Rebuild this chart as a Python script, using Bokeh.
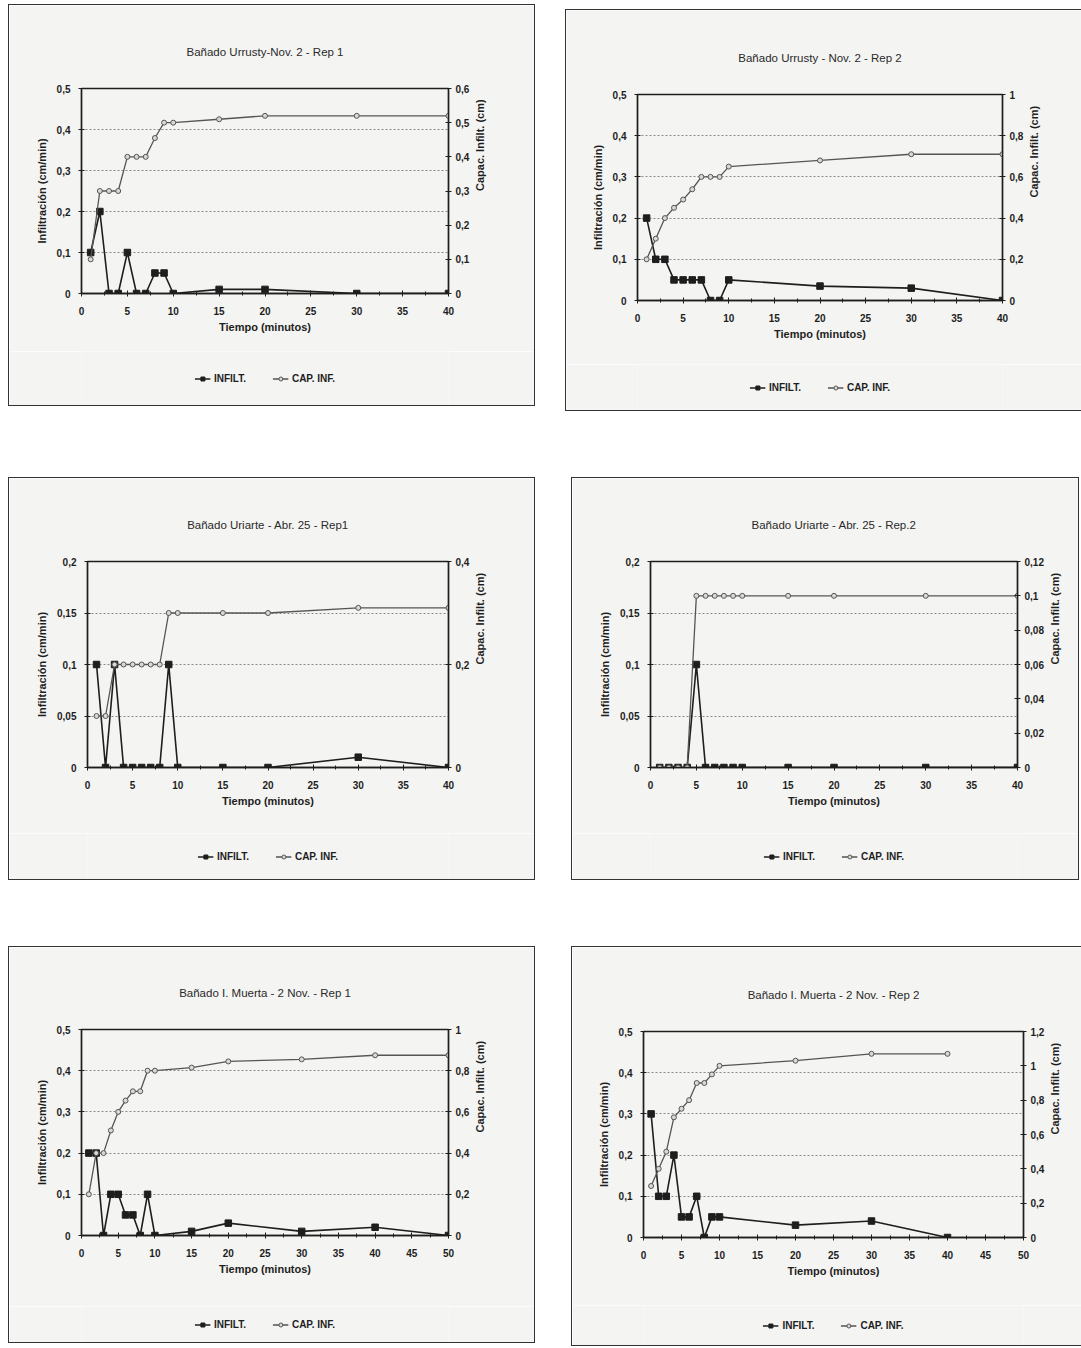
import math
from bokeh.plotting import figure
from bokeh.models import (Range1d, LinearAxis, FixedTicker, CustomJSTickFormatter,
                          Legend, LegendItem, Spacer, Title)
from bokeh.layouts import column, row
from bokeh.embed import file_html
from bokeh.resources import INLINE

# ---------------- data ----------------
titles = [
    "Bañado Urrusty-Nov. 2 - Rep 1",
    "Bañado Urrusty - Nov. 2 - Rep 2",
    "Bañado Uriarte - Abr. 25 - Rep1",
    "Bañado Uriarte - Abr. 25 - Rep.2",
    "Bañado I. Muerta - 2 Nov. - Rep 1",
    "Bañado I. Muerta - 2 Nov. - Rep 2",
]

t1 = [1, 2, 3, 4, 5, 6, 7, 8, 9, 10, 15, 20, 30, 40]
inf1 = [0.1, 0.2, 0, 0, 0.1, 0, 0, 0.05, 0.05, 0, 0.01, 0.01, 0, 0]
cap1 = [0.1, 0.3, 0.3, 0.3, 0.4, 0.4, 0.4, 0.455, 0.5, 0.5, 0.51, 0.52, 0.52, 0.52]

t2 = [1, 2, 3, 4, 5, 6, 7, 8, 9, 10, 20, 30, 40]
inf2 = [0.2, 0.1, 0.1, 0.05, 0.05, 0.05, 0.05, 0, 0, 0.05, 0.035, 0.03, 0]
cap2 = [0.2, 0.3, 0.4, 0.45, 0.49, 0.54, 0.6, 0.6, 0.6, 0.65, 0.68, 0.71, 0.71]

t3 = [1, 2, 3, 4, 5, 6, 7, 8, 9, 10, 15, 20, 30, 40]
inf3 = [0.1, 0, 0.1, 0, 0, 0, 0, 0, 0.1, 0, 0, 0, 0.01, 0]
cap3 = [0.1, 0.1, 0.2, 0.2, 0.2, 0.2, 0.2, 0.2, 0.3, 0.3, 0.3, 0.3, 0.31, 0.31]

t4 = [1, 2, 3, 4, 5, 6, 7, 8, 9, 10, 15, 20, 30, 40]
inf4 = [0, 0, 0, 0, 0.1, 0, 0, 0, 0, 0, 0, 0, 0, 0]
cap4 = [0, 0, 0, 0, 0.1, 0.1, 0.1, 0.1, 0.1, 0.1, 0.1, 0.1, 0.1, 0.1]

t5 = [1, 2, 3, 4, 5, 6, 7, 8, 9, 10, 15, 20, 30, 40, 50]
inf5 = [0.2, 0.2, 0, 0.1, 0.1, 0.05, 0.05, 0, 0.1, 0, 0.01, 0.03, 0.01, 0.02, 0]
cap5 = [0.2, 0.4, 0.4, 0.51, 0.6, 0.655, 0.7, 0.7, 0.8, 0.8, 0.815, 0.845, 0.855, 0.875, 0.875]

t6 = [1, 2, 3, 4, 5, 6, 7, 8, 9, 10, 20, 30, 40]
inf6 = [0.3, 0.1, 0.1, 0.2, 0.05, 0.05, 0.1, 0, 0.05, 0.05, 0.03, 0.04, 0]
cap6 = [0.3, 0.4, 0.5, 0.7, 0.75, 0.8, 0.9, 0.9, 0.95, 1.0, 1.03, 1.07, 1.07]

x_max = [40, 40, 40, 40, 50, 50]
left_ticks = [
    [0, 0.1, 0.2, 0.3, 0.4, 0.5],
    [0, 0.1, 0.2, 0.3, 0.4, 0.5],
    [0, 0.05, 0.1, 0.15, 0.2],
    [0, 0.05, 0.1, 0.15, 0.2],
    [0, 0.1, 0.2, 0.3, 0.4, 0.5],
    [0, 0.1, 0.2, 0.3, 0.4, 0.5],
]
right_ticks = [
    [0, 0.1, 0.2, 0.3, 0.4, 0.5, 0.6],
    [0, 0.2, 0.4, 0.6, 0.8, 1.0],
    [0, 0.2, 0.4],
    [0, 0.02, 0.04, 0.06, 0.08, 0.1, 0.12],
    [0, 0.2, 0.4, 0.6, 0.8, 1.0],
    [0, 0.2, 0.4, 0.6, 0.8, 1.0, 1.2],
]
series = [(t1, inf1, cap1), (t2, inf2, cap2), (t3, inf3, cap3),
          (t4, inf4, cap4), (t5, inf5, cap5), (t6, inf6, cap6)]

# ---------------- style / geometry ----------------
PAPER = "#f4f4f2"
INK = "#1e1e1e"
CAPC = "#555555"
FONT = "Liberation Sans"
# (width, chart height, legend strip height, border left, right, top, bottom)
geom = [
    (525, 346, 54, 72, 86, 83, 58),
    (515, 354, 46, 71, 79, 84, 64),
    (525, 355, 46, 78, 86, 83, 66),
    (506, 355, 46, 78, 61, 83, 66),
    (525, 359, 36, 72, 86, 82, 71),
    (509, 358, 40, 71, 58, 84, 68),
]
FMT = "return (Math.round(tick*1000)/1000).toString().replace('.', ',');"


def style_axis(ax, standoff):
    ax.axis_line_color = INK
    ax.axis_line_width = 1.4
    ax.major_tick_line_color = INK
    ax.minor_tick_line_color = INK
    ax.major_tick_in = 3
    ax.major_tick_out = 3
    ax.minor_tick_in = 2
    ax.minor_tick_out = 2
    ax.major_label_text_font = FONT
    ax.major_label_text_font_style = "bold"
    ax.major_label_text_font_size = "10px"
    ax.major_label_text_color = INK
    ax.major_label_standoff = standoff
    ax.axis_label_text_font = FONT
    ax.axis_label_text_font_style = "bold"
    ax.axis_label_text_font_size = "11px"
    ax.axis_label_text_color = INK


def make_panel(i):
    t, inf, cap = series[i]
    w, h, hs, bl, br, bt, bb = geom[i]
    lt, rt = left_ticks[i], right_ticks[i]
    p = figure(width=w, height=h, output_backend="svg", toolbar_location=None,
               x_range=Range1d(0, x_max[i]), y_range=Range1d(lt[0], lt[-1]),
               min_border_left=bl, min_border_right=br,
               min_border_top=bt, min_border_bottom=bb)
    p.extra_y_ranges = {"cap": Range1d(rt[0], rt[-1])}
    p.background_fill_color = PAPER
    p.border_fill_color = PAPER
    p.outline_line_color = INK
    p.outline_line_width = 1.4

    p.title.text = titles[i]
    p.title.align = "center"
    p.title.text_font = FONT
    p.title.text_font_style = "normal"
    p.title.text_font_size = "11.5px"
    p.title.text_color = "#2a2a2a"
    p.add_layout(Title(text=" ", text_font_size="12px"), "above")

    xa = p.xaxis[0]
    xa.ticker = FixedTicker(ticks=list(range(0, x_max[i] + 1, 5)),
                            minor_ticks=[k + 2.5 for k in range(0, x_max[i], 5)])
    xa.axis_label = "Tiempo (minutos)"
    style_axis(xa, 10)
    xa.axis_label_standoff = 3

    ya = p.yaxis[0]
    ya.ticker = FixedTicker(ticks=lt, minor_ticks=[])
    ya.formatter = CustomJSTickFormatter(code=FMT)
    ya.axis_label = "Infiltración (cm/min)"
    style_axis(ya, 8)
    ya.axis_label_standoff = 6

    ra = LinearAxis(y_range_name="cap", ticker=FixedTicker(ticks=rt, minor_ticks=[]),
                    formatter=CustomJSTickFormatter(code=FMT),
                    axis_label="Capac. Infilt. (cm)")
    style_axis(ra, 4)
    ra.axis_label_standoff = 8
    ra.axis_label_orientation = math.pi / 2
    p.add_layout(ra, "right")

    p.xgrid.grid_line_color = None
    p.ygrid.ticker = FixedTicker(ticks=lt[1:-1])
    p.ygrid.grid_line_color = "#8a8a8a"
    p.ygrid.grid_line_dash = "2 2"
    p.ygrid.grid_line_width = 1

    p.line(t, inf, line_color=INK, line_width=1.6)
    p.scatter(t, inf, marker="square", size=6.5, fill_color=INK, line_color=INK)
    p.line(t, cap, y_range_name="cap", line_color=CAPC, line_width=1.3)
    p.scatter(t, cap, y_range_name="cap", marker="circle", size=5,
              fill_color="#d8d8d8", line_color=CAPC, line_width=1)

    # legend strip under the chart (same series, drawn out of view so only the key shows)
    lg = figure(width=w, height=hs, output_backend="svg", toolbar_location=None,
                x_range=Range1d(0, x_max[i]), y_range=Range1d(100, 101),
                x_axis_type=None, y_axis_type=None, min_border=0)
    lg.background_fill_color = PAPER
    lg.border_fill_color = PAPER
    lg.outline_line_color = None
    lg.xgrid.grid_line_color = None
    lg.ygrid.grid_line_color = None
    e1 = lg.line(t, inf, line_color=INK, line_width=1.6)
    e2 = lg.scatter(t, inf, marker="square", size=6.5, fill_color=INK, line_color=INK)
    e3 = lg.line(t, cap, line_color=CAPC, line_width=1.3)
    e4 = lg.scatter(t, cap, marker="circle", size=5, fill_color="#d8d8d8",
                    line_color=CAPC, line_width=1)
    lg.add_layout(Legend(items=[LegendItem(label="INFILT.", renderers=[e1, e2]),
                                LegendItem(label="CAP. INF.", renderers=[e3, e4])],
                         location="center", padding=0, margin=0,
                         orientation="horizontal", border_line_alpha=0,
                         background_fill_alpha=0,
                         label_text_font=FONT, label_text_font_style="bold",
                         label_text_font_size="10px", label_text_color=INK,
                         glyph_width=16, glyph_height=10, spacing=26,
                         label_standoff=4))
    return column(p, lg, styles={"border": "1.5px solid #333333"})


ps = [make_panel(i) for i in range(6)]

row1 = row(Spacer(width=8, height=400), ps[0], Spacer(width=30, height=400),
           column(Spacer(width=515, height=5), ps[1]))
row2 = row(Spacer(width=8, height=401), ps[2], Spacer(width=36, height=401), ps[3])
row3 = row(Spacer(width=8, height=398), ps[4], Spacer(width=36, height=398), ps[5])

page = column(Spacer(width=1081, height=4), row1, Spacer(width=1081, height=66),
              row2, Spacer(width=1081, height=66), row3)

open("out.html", "w").write(file_html(page, INLINE))
